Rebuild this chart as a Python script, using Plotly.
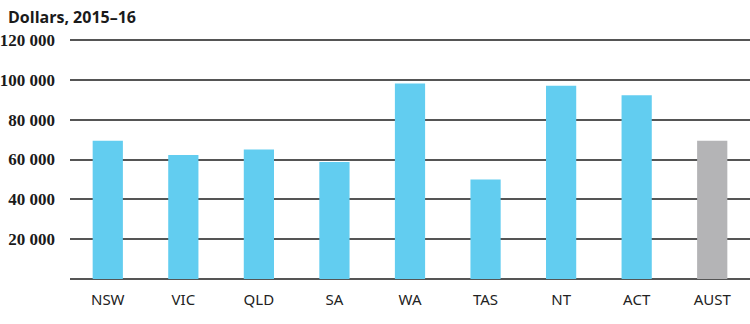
import plotly.graph_objects as go

categories = ["NSW", "VIC", "QLD", "SA", "WA", "TAS", "NT", "ACT", "AUST"]
values = [69400, 62200, 65000, 58800, 98200, 50000, 97000, 92300, 69400]
bar_colors = ["#62CDF0"] * 8 + ["#B4B4B6"]
tick_vals = [20000, 40000, 60000, 80000, 100000, 120000]
tick_text = ["20 000", "40 000", "60 000", "80 000", "100 000", "120 000"]
title_text = "Dollars, 2015\u201316"

fig = go.Figure(go.Bar(x=categories, y=values, marker_color=bar_colors,
                       marker_line_width=0, width=0.4))

fig.update_layout(
    width=750, height=324,
    margin=dict(l=70, r=0, t=38, b=45),
    paper_bgcolor="white", plot_bgcolor="white",
    showlegend=False,
    annotations=[dict(text="<b>" + title_text + "</b>", xref="paper", yref="paper",
                      x=-64/680, y=1 + 21/241, xanchor="left", yanchor="middle",
                      showarrow=False,
                      font=dict(family="Open Sans, DejaVu Sans, sans-serif", size=16, color="#1a1a1a"))],
)
fig.update_xaxes(showgrid=False, showline=False, ticks="",
                 tickfont=dict(family="Noto Sans, Open Sans, sans-serif", size=15, color="#222"),
                 ticklabelstandoff=10)
fig.update_yaxes(range=[0, 121000], tickvals=tick_vals, ticktext=tick_text,
                 showgrid=True, gridcolor="#555555", gridwidth=1.5,
                 zeroline=True, zerolinecolor="#555555", zerolinewidth=1.5,
                 showline=False, ticks="",
                 tickfont=dict(family="Liberation Serif, serif", size=17, color="#1a1a1a", weight="bold"),
                 ticklabelstandoff=14)

fig.write_html("out.html")
